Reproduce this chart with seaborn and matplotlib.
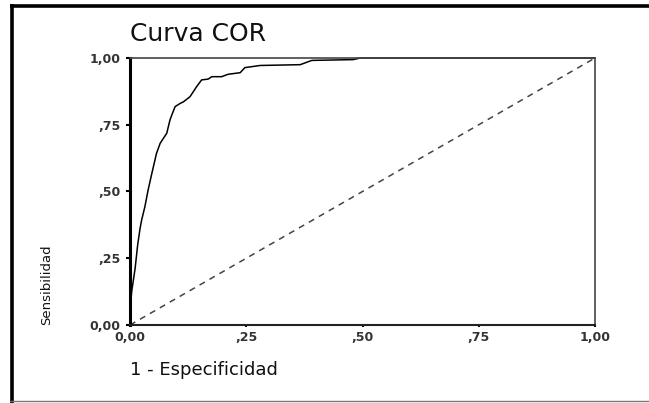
import numpy as np
import pandas as pd
import matplotlib
matplotlib.use("Agg")
import matplotlib.pyplot as plt
from matplotlib.lines import Line2D
import seaborn as sns

# ─── DATA ────────────────────────────────────────────────────────────────────

TITLE = "Curva COR"
X_LABEL = "1 - Especificidad"
Y_LABEL = "Sensibilidad"

TICKS = [0.0, 0.25, 0.5, 0.75, 1.0]
TICK_LABELS = ["0,00", ",25", ",50", ",75", "1,00"]

# courbe COR (1 - spécificité, sensibilité)
fpr = [0.0, 0.0, 0.0036, 0.011, 0.0165, 0.0215, 0.025, 0.032, 0.039, 0.047,
       0.057, 0.065, 0.079, 0.086, 0.090, 0.097, 0.108, 0.115, 0.129, 0.143,
       0.154, 0.168, 0.176, 0.197, 0.211, 0.237, 0.247, 0.28, 0.366, 0.391,
       0.48, 0.495, 1.0]
tpr = [0.0, 0.05, 0.125, 0.212, 0.30, 0.36, 0.393, 0.443, 0.506, 0.568,
       0.643, 0.681, 0.718, 0.768, 0.787, 0.818, 0.830, 0.836, 0.855, 0.892,
       0.918, 0.921, 0.930, 0.930, 0.939, 0.945, 0.964, 0.972, 0.975, 0.991,
       0.994, 1.0, 1.0]

ref_line = [0.0, 1.0]

# ─── PLOT ────────────────────────────────────────────────────────────────────

sns.set_style("white")
plt.rcParams["font.family"] = ["DejaVu Sans"]

W, H = 649, 403
fig = plt.figure(figsize=(W / 100, H / 100), dpi=100)
fig.patch.set_facecolor("white")
ax = fig.add_axes([130 / W, 1 - 325 / H, 465 / W, 267 / H])

df = pd.DataFrame({"fpr": fpr, "tpr": tpr})
sns.lineplot(data=df, x="fpr", y="tpr", sort=False, estimator=None,
             color="black", linewidth=1.1, ax=ax, clip_on=False)
sns.lineplot(x=ref_line, y=ref_line, sort=False, estimator=None,
             color="#444444", linewidth=1.1, dashes=False, ax=ax)
ax.lines[-1].set_dashes((4, 3.5))

ax.set_xlim(0, 1)
ax.set_ylim(0, 1)
ax.set_xticks(TICKS)
ax.set_yticks(TICKS)
ax.set_xticklabels(TICK_LABELS)
ax.set_yticklabels(TICK_LABELS)
ax.set_xlabel("")
ax.set_ylabel("")

for lbl in ax.get_xticklabels() + ax.get_yticklabels():
    lbl.set_fontweight("bold")
    lbl.set_fontsize(9)
    lbl.set_color("#333333")

ax.tick_params(axis="y", direction="out", length=3, width=1.5, pad=4,
               color="black", left=True)
ax.tick_params(axis="x", direction="out", length=1.5, width=1.5, pad=3,
               color="black", bottom=True)

ax.spines["left"].set_linewidth(2.2)
ax.spines["left"].set_color("black")
ax.spines["bottom"].set_linewidth(1.5)
ax.spines["bottom"].set_color("#222222")
for side in ("top", "right"):
    ax.spines[side].set_linewidth(1.2)
    ax.spines[side].set_color("#444444")
    ax.spines[side].set_visible(True)

# titre et libellés placés comme sur l'original
fig.text(130 / W, 1 - 41 / H, TITLE, fontsize=18, color="#111111",
         ha="left", va="baseline")
fig.text(130 / W, 1 - 375 / H, X_LABEL, fontsize=13, color="#111111",
         ha="left", va="baseline")
fig.text(47 / W, 1 - 325 / H, Y_LABEL, fontsize=9.5, color="#111111",
         rotation=90, ha="center", va="bottom")

# cadre noir autour de l'image
frame = dict(transform=fig.transFigure, solid_capstyle="butt")
fig.add_artist(Line2D([10 / W, 1.0], [1 - 5.5 / H, 1 - 5.5 / H],
                      color="black", lw=2.6, **frame))
fig.add_artist(Line2D([11.5 / W, 11.5 / W], [1 - 4 / H, 0.0],
                      color="black", lw=2.6, **frame))
fig.add_artist(Line2D([10 / W, 1.0], [1 - 400.5 / H, 1 - 400.5 / H],
                      color="#777777", lw=1.0, **frame))

fig.savefig("out.png", dpi=100)
plt.close()
